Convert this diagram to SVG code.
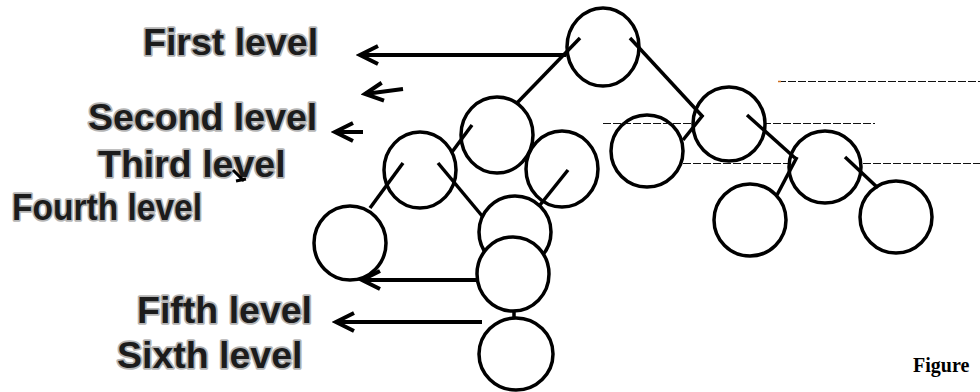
<svg xmlns="http://www.w3.org/2000/svg" width="980" height="392" viewBox="0 0 980 392">
  <defs>
    <style>
      .node { fill: #ffffff; stroke: #000000; stroke-width: 3.5; }
      .edge { stroke: #000000; stroke-width: 3.5; fill: none; stroke-linecap: butt; }
      .arrow { stroke: #000000; stroke-width: 4; fill: none; marker-end: url(#chev); }
      .guide { stroke: #111111; stroke-width: 1; stroke-dasharray: 8 2; fill: none; }
      .lbl { font-family: "Liberation Sans", Arial, sans-serif; font-weight: bold; font-size: 37.5px; fill: #1c1c1c; stroke: #b5b5b5; stroke-width: 3.5; paint-order: stroke; stroke-linejoin: round; }
      .cap { font-family: "Liberation Serif", "Times New Roman", serif; font-weight: bold; font-size: 20px; fill: #000000; }
    </style>
    <marker id="chev" markerUnits="userSpaceOnUse" viewBox="-20 -12 24 24" refX="0" refY="0" markerWidth="24" markerHeight="24" orient="auto">
      <path d="M -18 -9 L 0 0 L -18 9" fill="none" stroke="#000000" stroke-width="4" stroke-linejoin="miter"/>
    </marker>
  </defs>
  <rect x="0" y="0" width="980" height="392" fill="#ffffff"/>

  <g id="labels">
    <text class="lbl" x="143" y="55">First level</text>
    <text class="lbl" x="88" y="130">Second level</text>
    <text class="lbl" x="98" y="177">Third level</text>
    <text class="lbl" x="12" y="220" textLength="190" lengthAdjust="spacingAndGlyphs">Fourth level</text>
    <text class="lbl" x="137" y="323">Fifth level</text>
    <text class="lbl" x="117" y="368">Sixth level</text>
    <text class="cap" x="913" y="372">Figure</text>
  </g>

  <g id="node-3"><ellipse class="node" cx="647" cy="151" rx="36" ry="36"/></g>

  <g id="guides">
    <line class="guide" x1="778" y1="81.5" x2="980" y2="81.5"/>
    <line x1="778" y1="81.5" x2="781" y2="81.5" stroke="#d07020" stroke-width="1.5"/>
    <line class="guide" x1="603" y1="123.5" x2="875" y2="123.5"/>
    <line class="guide" x1="683" y1="163.5" x2="980" y2="163.5"/>
  </g>

  <g id="node-1"><ellipse class="node" cx="603" cy="47" rx="36" ry="39"/></g>
  <g id="node-2"><ellipse class="node" cx="729" cy="124" rx="36" ry="37"/></g>
  <g id="node-4"><ellipse class="node" cx="825" cy="167" rx="36" ry="36"/></g>
  <g id="node-5"><ellipse class="node" cx="750" cy="220" rx="36" ry="36"/></g>
  <g id="node-6"><ellipse class="node" cx="896" cy="217" rx="36" ry="36"/></g>
  <g id="node-7"><ellipse class="node" cx="497" cy="135" rx="36" ry="38"/></g>
  <g id="node-8"><ellipse class="node" cx="420" cy="170" rx="36" ry="38"/></g>
  <g id="node-9"><ellipse class="node" cx="562" cy="169" rx="36" ry="38"/></g>
  <g id="node-10"><ellipse class="node" cx="350" cy="243" rx="36" ry="37"/></g>
  <g id="node-11"><ellipse class="node" cx="515" cy="232" rx="36" ry="36"/></g>
  <g id="node-12"><ellipse class="node" cx="513" cy="274" rx="36" ry="37"/></g>
  <g id="node-13"><ellipse class="node" cx="516" cy="354" rx="37" ry="36"/></g>

  <g id="connectors">
    <line class="edge" x1="580" y1="38" x2="517" y2="103"/>
    <line class="edge" x1="630" y1="38" x2="703" y2="117"/>
    <line class="edge" x1="703" y1="115" x2="683" y2="140"/>
    <line class="edge" x1="747" y1="115" x2="795" y2="158"/>
    <line class="edge" x1="797" y1="157" x2="777" y2="195"/>
    <line class="edge" x1="845" y1="157" x2="878" y2="188"/>
    <line class="edge" x1="472" y1="125" x2="452" y2="152"/>
    <line class="edge" x1="403" y1="163" x2="370" y2="208"/>
    <line class="edge" x1="438" y1="163" x2="483" y2="217"/>
    <line class="edge" x1="568" y1="170" x2="540" y2="205"/>
    <line class="edge" x1="514" y1="310" x2="514" y2="319"/>

    <line class="arrow" x1="566" y1="55" x2="360" y2="55"/>
    <line class="arrow" x1="403" y1="89" x2="365" y2="94"/>
    <line class="arrow" x1="363" y1="132" x2="335" y2="132"/>
    <path d="M 233 170 L 244 181 M 236 181 L 246 179" fill="none" stroke="#000000" stroke-width="3"/>
    <line class="arrow" x1="477" y1="280" x2="362" y2="280"/>
    <line class="arrow" x1="482" y1="322" x2="336" y2="322"/>
  </g>
</svg>
